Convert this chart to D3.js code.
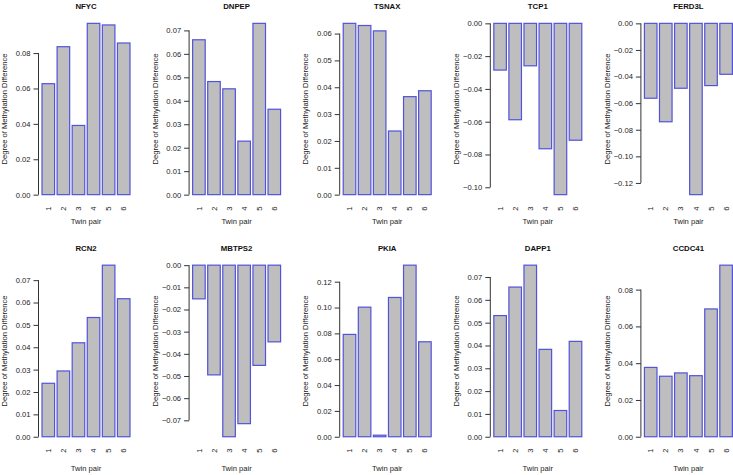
<!DOCTYPE html>
<html>
<head>
<meta charset="utf-8">
<script src="https://cdn.jsdelivr.net/npm/d3@7"></script>
<style>
  body { margin: 0; background: #fff; }
  svg { display: block; font-family: "Liberation Sans", Arial, sans-serif; }
</style>
</head>
<body>
<svg id="chart" width="733" height="475"></svg>
<script>
// --- DATA ---
const genes = ["NFYC", "DNPEP", "TSNAX", "TCP1", "FERD3L", "RCN2", "MBTPS2", "PKIA", "DAPP1", "CCDC41"];
const twinPairs = ["1", "2", "3", "4", "5", "6"];

const nfyc   = [0.0627, 0.0836, 0.0391, 0.0968, 0.0959, 0.0857];
const dnpep  = [0.0660, 0.0482, 0.0451, 0.0228, 0.0730, 0.0364];
const tsnax  = [0.0638, 0.0630, 0.0610, 0.0237, 0.0365, 0.0387];
const tcp1   = [-0.0285, -0.0588, -0.0259, -0.0765, -0.1045, -0.0713];
const ferd3l = [-0.0563, -0.0740, -0.0488, -0.1288, -0.0468, -0.0383];
const rcn2   = [0.0239, 0.0294, 0.0420, 0.0533, 0.0767, 0.0617];
const mbtps2 = [-0.0152, -0.0495, -0.0774, -0.0715, -0.0452, -0.0346];
const pkia   = [0.0792, 0.1003, 0.0012, 0.1078, 0.1328, 0.0735];
const dapp1  = [0.0531, 0.0656, 0.0752, 0.0383, 0.0115, 0.0418];
const ccdc41 = [0.0377, 0.0329, 0.0347, 0.0332, 0.0695, 0.0933];

const series = [nfyc, dnpep, tsnax, tcp1, ferd3l, rcn2, mbtps2, pkia, dapp1, ccdc41];

// y tick labels per panel
const yTicks = [
  [0, 0.02, 0.04, 0.06, 0.08],
  [0, 0.01, 0.02, 0.03, 0.04, 0.05, 0.06, 0.07],
  [0, 0.01, 0.02, 0.03, 0.04, 0.05, 0.06],
  [0, -0.02, -0.04, -0.06, -0.08, -0.10],
  [0, -0.02, -0.04, -0.06, -0.08, -0.10, -0.12],
  [0, 0.01, 0.02, 0.03, 0.04, 0.05, 0.06, 0.07],
  [0, -0.01, -0.02, -0.03, -0.04, -0.05, -0.06, -0.07],
  [0, 0.02, 0.04, 0.06, 0.08, 0.10, 0.12],
  [0, 0.01, 0.02, 0.03, 0.04, 0.05, 0.06, 0.07],
  [0, 0.02, 0.04, 0.06, 0.08]
];

// --- LAYOUT ---
const colStep = 150.6, firstLeft = 38.5, plotW = 95;
const rowTop = [16.5, 258.3], rowBottom = [201.5, 443.6];
const xLabOffset = [19.5, 25];
const fontSize = 7.6;

const svg = d3.select("#chart");
svg.append("rect").attr("width", 733).attr("height", 475).attr("fill", "#fff");

genes.forEach((gene, k) => {
  const row = Math.floor(k / 5), col = k % 5;
  const left = firstLeft + colStep * col, right = left + plotW;
  const top = rowTop[row], bottom = rowBottom[row];
  const vals = series[k];

  // R style 4% extension of the data range
  const lo = Math.min(0, d3.min(vals)), hi = Math.max(0, d3.max(vals));
  const pad = 0.04 * (hi - lo);
  const y = d3.scaleLinear().domain([lo - pad, hi + pad]).range([bottom, top]);
  const xPad = plotW * 0.28 / 7.56;
  const x = d3.scaleBand().domain(twinPairs).range([left + xPad, right - xPad])
    .paddingInner(1 / 6).paddingOuter(0);

  const g = svg.append("g");

  // bars
  g.selectAll("rect.bar").data(vals).join("rect")
    .attr("class", "bar")
    .attr("x", (d, i) => x(twinPairs[i]))
    .attr("width", x.bandwidth())
    .attr("y", d => y(Math.max(0, d)))
    .attr("height", d => Math.abs(y(d) - y(0)))
    .attr("fill", "#bebebe")
    .attr("stroke", "#5252dc")
    .attr("stroke-width", 1.2);

  // y axis
  const ticks = yTicks[k];
  const ax = g.append("g")
    .attr("transform", `translate(${left},0)`)
    .call(d3.axisLeft(y).tickValues(ticks).tickSize(5).tickPadding(3).tickFormat(d3.format(".2f")));
  ax.select(".domain").remove();
  ax.append("line")
    .attr("y1", y(d3.min(ticks))).attr("y2", y(d3.max(ticks)))
    .attr("stroke", "#333").attr("stroke-width", 1);
  ax.selectAll(".tick line").attr("stroke", "#333");
  ax.selectAll(".tick text").attr("fill", "#222").style("font-size", fontSize + "px")
    .style("font-family", "Liberation Sans, Arial, sans-serif");

  // x tick labels (rotated, las = 2)
  g.selectAll("text.xt").data(twinPairs).join("text")
    .attr("class", "xt")
    .attr("transform", d => `translate(${x(d) + x.bandwidth() / 2 + 2.6},${bottom + 5}) rotate(-90)`)
    .attr("text-anchor", "end")
    .attr("fill", "#222")
    .style("font-size", fontSize + "px")
    .text(d => d);

  // title
  g.append("text")
    .attr("x", (left + right) / 2).attr("y", top - 10.5).attr("dy", "0.35em")
    .attr("text-anchor", "middle").attr("font-weight", "bold")
    .attr("fill", "#111").style("font-size", "7.8px")
    .text(gene);

  // x axis title
  g.append("text")
    .attr("x", (left + right) / 2).attr("y", bottom + xLabOffset[row]).attr("dy", "0.35em")
    .attr("text-anchor", "middle").attr("fill", "#222").style("font-size", fontSize + "px")
    .text("Twin pair");

  // y axis title
  g.append("text")
    .attr("transform", `translate(${left - 34},${(top + bottom) / 2}) rotate(-90)`)
    .attr("dy", "0.35em")
    .attr("text-anchor", "middle").attr("fill", "#222").style("font-size", fontSize + "px")
    .text("Degree of Methylation Difference");
});
</script>
</body>
</html>
